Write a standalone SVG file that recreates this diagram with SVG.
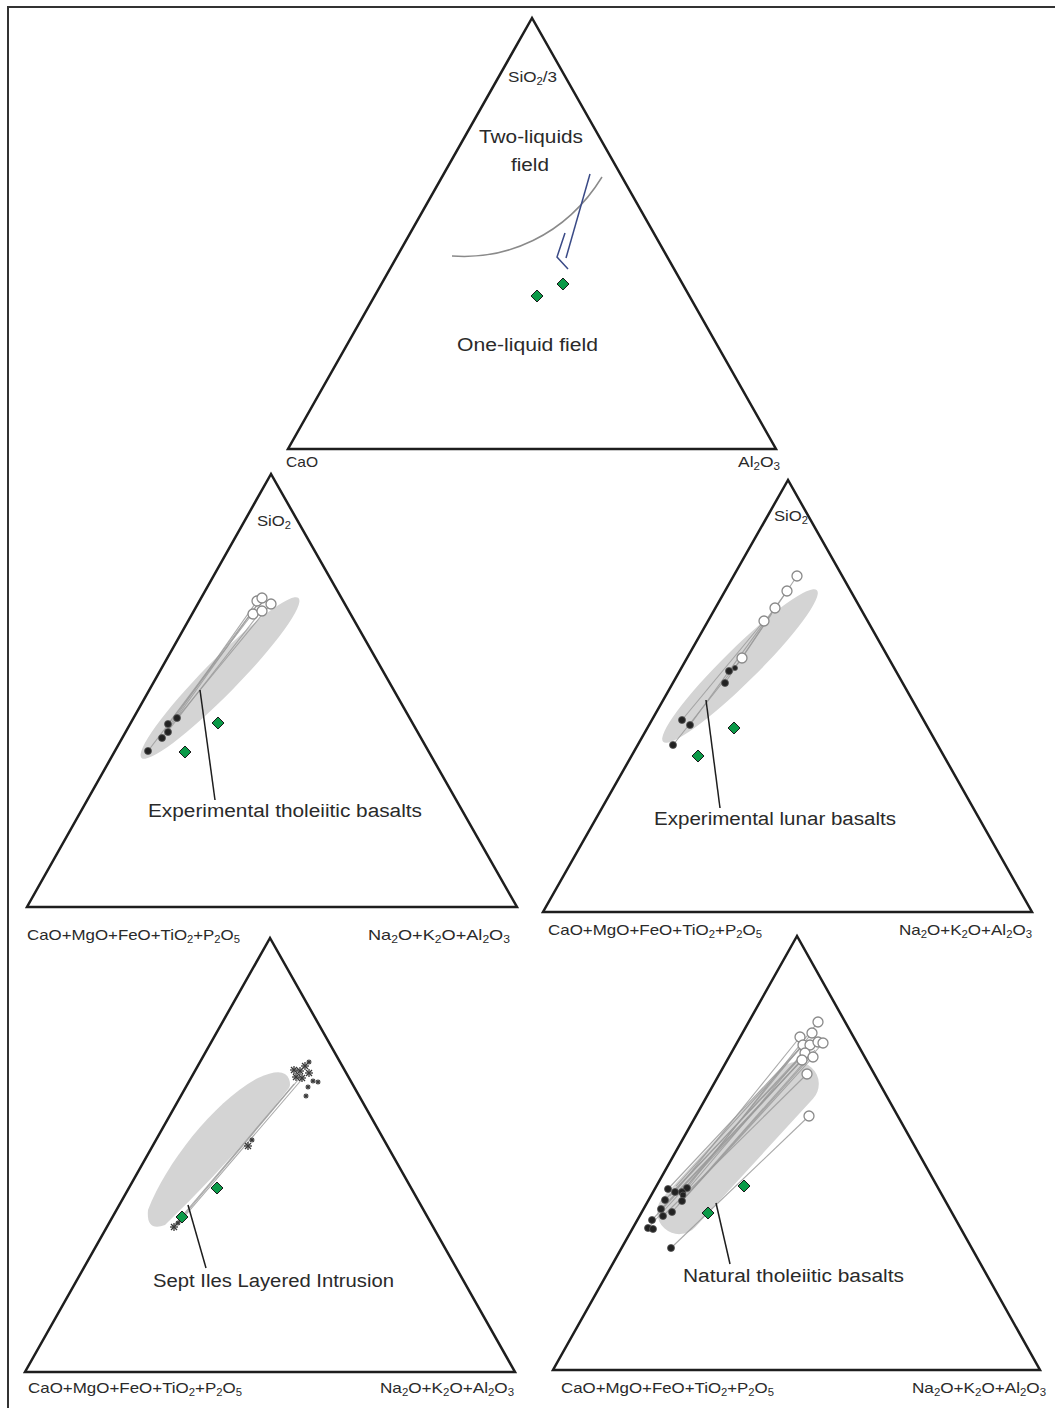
<svg xmlns="http://www.w3.org/2000/svg" xmlns:xlink="http://www.w3.org/1999/xlink" width="1055" height="1408" viewBox="0 0 1055 1408">
<style>
.tri{fill:none;stroke:#1e1e1e;stroke-width:2.5;stroke-linejoin:miter}
.lbl{font-family:"Liberation Sans","DejaVu Sans",sans-serif;fill:#2a2a2a}
.ax{font-size:15px}
.big{font-size:18px}
.sub{font-size:10px}
.field{fill:#d4d4d4}
.tie{stroke:#9a9a9a;stroke-width:1.1;fill:none;opacity:0.85}
.lead{stroke:#1e1e1e;stroke-width:1.5;fill:none}
.oc{fill:#fff;stroke:#8a8a8a;stroke-width:1.3}
.bd{fill:#222;stroke:#555;stroke-width:0.8}
.ast{stroke:#3a3a3a;stroke-width:1.3;fill:none}
</style>
<defs>
<path id="dia" d="M0,-6 L6,0 L0,6 L-6,0 Z" fill="#0b9a48" stroke="#1a1a1a" stroke-width="1"/>
<g id="st" class="ast"><line x1="-4" y1="0" x2="4" y2="0"/><line x1="0" y1="-4" x2="0" y2="4"/><line x1="-3" y1="-3" x2="3" y2="3"/><line x1="-3" y1="3" x2="3" y2="-3"/></g>
<g id="sts" class="ast"><line x1="-2.5" y1="0" x2="2.5" y2="0"/><line x1="0" y1="-2.5" x2="0" y2="2.5"/><line x1="-1.8" y1="-1.8" x2="1.8" y2="1.8"/><line x1="-1.8" y1="1.8" x2="1.8" y2="-1.8"/></g>
</defs>
<rect x="8" y="7" width="1070" height="1420" fill="none" stroke="#333" stroke-width="2"/>

<!-- Top triangle -->
<g id="tri-top">
<polygon class="tri" points="532,18 288,449 776,449"/>
<path d="M452,256 C505,260 565,237 602,177" fill="none" stroke="#8a8a8a" stroke-width="1.5"/>
<path d="M590,174 L566,258" fill="none" stroke="#3a4a86" stroke-width="1.5"/>
<path d="M565,233 L557,257 L568,269" fill="none" stroke="#3a4a86" stroke-width="1.5"/>
<use xlink:href="#dia" x="563" y="284"/>
<use xlink:href="#dia" x="537" y="296"/>
<text class="lbl ax" x="508" y="82" textLength="49" lengthAdjust="spacingAndGlyphs">SiO<tspan class="sub" dy="3">2</tspan><tspan dy="-3">/3</tspan></text>
<text class="lbl big" x="479" y="143" textLength="104" lengthAdjust="spacingAndGlyphs">Two-liquids</text>
<text class="lbl big" x="511" y="171" textLength="38" lengthAdjust="spacingAndGlyphs">field</text>
<text class="lbl big" x="457" y="351" textLength="141" lengthAdjust="spacingAndGlyphs">One-liquid field</text>
<text class="lbl ax" x="286" y="467" textLength="32" lengthAdjust="spacingAndGlyphs">CaO</text>
<text class="lbl ax" x="738" y="467" textLength="42" lengthAdjust="spacingAndGlyphs">Al<tspan class="sub" dy="3">2</tspan><tspan dy="-3">O</tspan><tspan class="sub" dy="3">3</tspan></text>
</g>

<!-- Middle-left triangle -->
<g id="tri-ml">
<polygon class="tri" points="271,474 27,907 517,907"/>
<ellipse class="field" cx="220" cy="678" rx="112" ry="17" transform="rotate(-45.5 220 678)"/>
<g id="ties-ml">
<line class="tie" x1="148" y1="751" x2="253" y2="613"/>
<line class="tie" x1="162" y1="738" x2="257" y2="605"/>
<line class="tie" x1="168" y1="731" x2="262" y2="610"/>
<line class="tie" x1="168" y1="724" x2="261" y2="600"/>
<line class="tie" x1="177" y1="718" x2="271" y2="604"/>
<line class="tie" x1="172" y1="722" x2="257" y2="601"/>
</g>
<circle class="oc" cx="257" cy="601" r="5"/>
<circle class="oc" cx="262" cy="598" r="5"/>
<circle class="oc" cx="271" cy="604" r="5"/>
<circle class="oc" cx="253" cy="614" r="5"/>
<circle class="oc" cx="262" cy="611" r="5"/>
<circle class="bd" cx="177" cy="718" r="3.5"/>
<circle class="bd" cx="168" cy="724" r="3.5"/>
<circle class="bd" cx="168" cy="732" r="3.5"/>
<circle class="bd" cx="162" cy="738" r="3.5"/>
<circle class="bd" cx="148" cy="751" r="3.5"/>
<use xlink:href="#dia" x="218" y="723"/>
<use xlink:href="#dia" x="185" y="752"/>
<path class="lead" d="M200,690 L215,800"/>
<text class="lbl ax" x="257" y="526" textLength="34" lengthAdjust="spacingAndGlyphs">SiO<tspan class="sub" dy="3">2</tspan></text>
<text class="lbl big" x="148" y="817" textLength="274" lengthAdjust="spacingAndGlyphs">Experimental tholeiitic basalts</text>
<text class="lbl ax" x="27" y="940" textLength="213" lengthAdjust="spacingAndGlyphs">CaO+MgO+FeO+TiO<tspan class="sub" dy="3">2</tspan><tspan dy="-3">+P</tspan><tspan class="sub" dy="3">2</tspan><tspan dy="-3">O</tspan><tspan class="sub" dy="3">5</tspan></text>
<text class="lbl ax" x="368" y="940" textLength="142" lengthAdjust="spacingAndGlyphs">Na<tspan class="sub" dy="3">2</tspan><tspan dy="-3">O+K</tspan><tspan class="sub" dy="3">2</tspan><tspan dy="-3">O+Al</tspan><tspan class="sub" dy="3">2</tspan><tspan dy="-3">O</tspan><tspan class="sub" dy="3">3</tspan></text>
</g>

<!-- Middle-right triangle -->
<g id="tri-mr">
<polygon class="tri" points="788,480 543,912 1032,912"/>
<ellipse class="field" cx="740" cy="666" rx="108" ry="17" transform="rotate(-44.6 740 666)"/>
<g id="ties-mr">
<polyline class="tie" points="673,745 742,658 797,576"/>
<line class="tie" x1="682" y1="720" x2="764" y2="621"/>
<line class="tie" x1="690" y1="725" x2="787" y2="591"/>
<line class="tie" x1="725" y1="683" x2="775" y2="608"/>
</g>
<circle class="oc" cx="797" cy="576" r="5"/>
<circle class="oc" cx="787" cy="591" r="5"/>
<circle class="oc" cx="775" cy="608" r="5"/>
<circle class="oc" cx="764" cy="621" r="5"/>
<circle class="oc" cx="742" cy="658" r="5"/>
<circle class="bd" cx="735" cy="668" r="2.5"/>
<circle class="bd" cx="729" cy="671" r="3.5"/>
<circle class="bd" cx="725" cy="683" r="3.5"/>
<circle class="bd" cx="682" cy="720" r="3.5"/>
<circle class="bd" cx="690" cy="725" r="3.5"/>
<circle class="bd" cx="673" cy="745" r="3.5"/>
<use xlink:href="#dia" x="734" y="728"/>
<use xlink:href="#dia" x="698" y="756"/>
<path class="lead" d="M706,700 L720,808"/>
<text class="lbl ax" x="774" y="521" textLength="34" lengthAdjust="spacingAndGlyphs">SiO<tspan class="sub" dy="3">2</tspan></text>
<text class="lbl big" x="654" y="825" textLength="242" lengthAdjust="spacingAndGlyphs">Experimental lunar basalts</text>
<text class="lbl ax" x="548" y="935" textLength="214" lengthAdjust="spacingAndGlyphs">CaO+MgO+FeO+TiO<tspan class="sub" dy="3">2</tspan><tspan dy="-3">+P</tspan><tspan class="sub" dy="3">2</tspan><tspan dy="-3">O</tspan><tspan class="sub" dy="3">5</tspan></text>
<text class="lbl ax" x="899" y="935" textLength="133" lengthAdjust="spacingAndGlyphs">Na<tspan class="sub" dy="3">2</tspan><tspan dy="-3">O+K</tspan><tspan class="sub" dy="3">2</tspan><tspan dy="-3">O+Al</tspan><tspan class="sub" dy="3">2</tspan><tspan dy="-3">O</tspan><tspan class="sub" dy="3">3</tspan></text>
</g>

<!-- Bottom-left triangle -->
<g id="tri-bl">
<polygon class="tri" points="270,938 25,1372 515,1372"/>
<path class="field" d="M289,1088 Q240,1152 165,1225 Q146,1232 148,1210 C166,1163 214,1102 258,1078 Q284,1066 289,1079 Q291,1085 289,1088 Z"/>
<g id="ties-bl">
<line class="tie" x1="175" y1="1226" x2="298" y2="1080"/>
<line class="tie" x1="178" y1="1224" x2="303" y2="1078"/>
<line class="tie" x1="172" y1="1228" x2="294" y2="1084"/>
</g>
<use xlink:href="#st" x="300" y="1071"/>
<use xlink:href="#st" x="296" y="1077"/>
<use xlink:href="#st" x="305" y="1066"/>
<use xlink:href="#st" x="309" y="1073"/>
<use xlink:href="#st" x="302" y="1078"/>
<use xlink:href="#st" x="294" y="1070"/>
<use xlink:href="#sts" x="309" y="1062"/>
<use xlink:href="#sts" x="313" y="1081"/>
<use xlink:href="#sts" x="308" y="1087"/>
<use xlink:href="#sts" x="318" y="1082"/>
<use xlink:href="#sts" x="306" y="1096"/>
<use xlink:href="#st" x="248" y="1146"/>
<use xlink:href="#sts" x="252" y="1140"/>
<use xlink:href="#st" x="174" y="1227"/>
<use xlink:href="#sts" x="178" y="1223"/>
<use xlink:href="#dia" x="217" y="1188"/>
<use xlink:href="#dia" x="182" y="1217"/>
<path class="lead" d="M188,1205 L206,1268"/>
<text class="lbl big" x="153" y="1287" textLength="241" lengthAdjust="spacingAndGlyphs">Sept Iles Layered Intrusion</text>
<text class="lbl ax" x="28" y="1393" textLength="214" lengthAdjust="spacingAndGlyphs">CaO+MgO+FeO+TiO<tspan class="sub" dy="3">2</tspan><tspan dy="-3">+P</tspan><tspan class="sub" dy="3">2</tspan><tspan dy="-3">O</tspan><tspan class="sub" dy="3">5</tspan></text>
<text class="lbl ax" x="380" y="1393" textLength="134" lengthAdjust="spacingAndGlyphs">Na<tspan class="sub" dy="3">2</tspan><tspan dy="-3">O+K</tspan><tspan class="sub" dy="3">2</tspan><tspan dy="-3">O+Al</tspan><tspan class="sub" dy="3">2</tspan><tspan dy="-3">O</tspan><tspan class="sub" dy="3">3</tspan></text>
</g>

<!-- Bottom-right triangle -->
<g id="tri-br">
<polygon class="tri" points="797,936 553,1370 1040,1370"/>
<rect class="field" x="629" y="1126" width="218" height="44" rx="22" transform="rotate(-47.5 738 1148)"/>
<g id="ties-br">
<line class="tie" x1="687" y1="1188" x2="818" y2="1022"/>
<line class="tie" x1="682" y1="1192" x2="812" y2="1033"/>
<line class="tie" x1="675" y1="1192" x2="800" y2="1037"/>
<line class="tie" x1="668" y1="1189" x2="803" y2="1045"/>
<line class="tie" x1="683" y1="1195" x2="810" y2="1045"/>
<line class="tie" x1="665" y1="1200" x2="805" y2="1053"/>
<line class="tie" x1="682" y1="1201" x2="823" y2="1043"/>
<line class="tie" x1="661" y1="1209" x2="802" y2="1060"/>
<line class="tie" x1="672" y1="1212" x2="813" y2="1057"/>
<line class="tie" x1="663" y1="1216" x2="807" y2="1074"/>
<line class="tie" x1="652" y1="1220" x2="800" y2="1062"/>
<line class="tie" x1="648" y1="1228" x2="798" y2="1064"/>
<line class="tie" x1="676" y1="1186" x2="808" y2="1040"/>
<line class="tie" x1="670" y1="1196" x2="806" y2="1050"/>
<line class="tie" x1="678" y1="1205" x2="815" y2="1050"/>
<line class="tie" x1="671" y1="1248" x2="809" y2="1116"/>
</g>
<circle class="oc" cx="818" cy="1022" r="5"/>
<circle class="oc" cx="812" cy="1033" r="5"/>
<circle class="oc" cx="800" cy="1037" r="5"/>
<circle class="oc" cx="803" cy="1045" r="5"/>
<circle class="oc" cx="810" cy="1045" r="5"/>
<circle class="oc" cx="818" cy="1042" r="5"/>
<circle class="oc" cx="823" cy="1043" r="5"/>
<circle class="oc" cx="805" cy="1053" r="5"/>
<circle class="oc" cx="813" cy="1057" r="5"/>
<circle class="oc" cx="802" cy="1060" r="5"/>
<circle class="oc" cx="807" cy="1074" r="5"/>
<circle class="oc" cx="809" cy="1116" r="5"/>
<circle class="bd" cx="687" cy="1188" r="3.5"/>
<circle class="bd" cx="682" cy="1192" r="3.5"/>
<circle class="bd" cx="675" cy="1192" r="3.5"/>
<circle class="bd" cx="668" cy="1189" r="3.5"/>
<circle class="bd" cx="683" cy="1195" r="3"/>
<circle class="bd" cx="665" cy="1200" r="3.5"/>
<circle class="bd" cx="682" cy="1201" r="3.5"/>
<circle class="bd" cx="661" cy="1209" r="3.5"/>
<circle class="bd" cx="672" cy="1212" r="3.5"/>
<circle class="bd" cx="663" cy="1216" r="3.5"/>
<circle class="bd" cx="652" cy="1220" r="3.5"/>
<circle class="bd" cx="648" cy="1228" r="3.5"/>
<circle class="bd" cx="653" cy="1229" r="3.5"/>
<circle class="bd" cx="671" cy="1248" r="3.5"/>
<use xlink:href="#dia" x="744" y="1186"/>
<use xlink:href="#dia" x="708" y="1213"/>
<path class="lead" d="M716,1203 L730,1264"/>
<text class="lbl big" x="683" y="1282" textLength="221" lengthAdjust="spacingAndGlyphs">Natural tholeiitic basalts</text>
<text class="lbl ax" x="561" y="1393" textLength="213" lengthAdjust="spacingAndGlyphs">CaO+MgO+FeO+TiO<tspan class="sub" dy="3">2</tspan><tspan dy="-3">+P</tspan><tspan class="sub" dy="3">2</tspan><tspan dy="-3">O</tspan><tspan class="sub" dy="3">5</tspan></text>
<text class="lbl ax" x="912" y="1393" textLength="134" lengthAdjust="spacingAndGlyphs">Na<tspan class="sub" dy="3">2</tspan><tspan dy="-3">O+K</tspan><tspan class="sub" dy="3">2</tspan><tspan dy="-3">O+Al</tspan><tspan class="sub" dy="3">2</tspan><tspan dy="-3">O</tspan><tspan class="sub" dy="3">3</tspan></text>
</g>
</svg>
